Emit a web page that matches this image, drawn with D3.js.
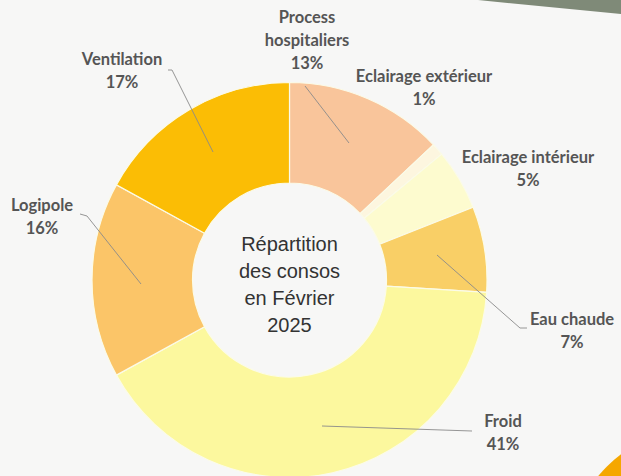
<!DOCTYPE html>
<html lang="fr">
<head>
<meta charset="UTF-8">
<title>Répartition des consos</title>
<script src="https://d3js.org/d3.v7.min.js"></script>
<style>
  body { margin: 0; background: #f7f7f6; }
  svg { display: block; }
</style>
</head>
<body>
<div id="chart"></div>
<script>
// Données
var categories = ["Process hospitaliers", "Eclairage extérieur", "Eclairage intérieur", "Eau chaude", "Froid", "Logipole", "Ventilation"];
var values = [13, 1, 5, 7, 41, 16, 17];
var colors = ["#f9c59b", "#fdf6df", "#fdfbcf", "#f9cf66", "#fcf89e", "#fbc568", "#fbbd05"];
var centerLines = ["Répartition", "des consos", "en Février", "2025"];

var width = 621, height = 476;
var cx = 289.5, cy = 280;
var outerR = 197.5, innerR = 97;

var svg = d3.select("#chart").append("svg")
    .attr("width", width)
    .attr("height", height);

svg.append("rect").attr("width", width).attr("height", height).attr("fill", "#f7f7f6");

// bandeau gris en haut à droite (photo)
svg.append("path")
    .attr("d", "M478,0 L621,0 L621,14 Z")
    .attr("fill", "#7f8a78");
// tache orange en bas à droite
svg.append("circle")
    .attr("cx", 700).attr("cy", 560).attr("r", 132)
    .attr("fill", "#f5a700");

var pie = d3.pie().sort(null).value(function(d) { return d; });
var arc = d3.arc().innerRadius(innerR).outerRadius(outerR);
var arcs = pie(values);

var g = svg.append("g").attr("transform", "translate(" + cx + "," + cy + ")");

g.selectAll("path.slice")
    .data(arcs)
    .enter().append("path")
    .attr("class", "slice")
    .attr("d", arc)
    .attr("fill", function(d, i) { return colors[i]; })
    .attr("stroke", "#fbfbe8")
    .attr("stroke-width", 1.2);

// étiquettes : position du texte et point d'attache de la ligne
var labels = [
  { lines: ["Process", "hospitaliers", "13%"], x: 307, y: 23, line: [[305, 86], [349, 143]] },
  { lines: ["Eclairage extérieur", "1%"], x: 424, y: 82, line: null },
  { lines: ["Eclairage intérieur", "5%"], x: 528, y: 163, line: null },
  { lines: ["Eau chaude", "7%"], x: 572, y: 325, line: [[437, 255], [520, 328], [527, 328]] },
  { lines: ["Froid", "41%"], x: 503, y: 427, line: [[322, 426], [472, 431]] },
  { lines: ["Logipole", "16%"], x: 42, y: 211, line: [[80, 214], [87, 216], [141, 284]] },
  { lines: ["Ventilation", "17%"], x: 122, y: 65, line: [[168, 70], [172, 70], [213, 152]] }
];

var lineGen = d3.line();
svg.selectAll("path.leader")
    .data(labels.filter(function(d) { return d.line; }))
    .enter().append("path")
    .attr("class", "leader")
    .attr("d", function(d) { return lineGen(d.line); })
    .attr("fill", "none")
    .attr("stroke", "#8a8a8a")
    .attr("stroke-width", 0.9);

var lab = svg.selectAll("text.lab")
    .data(labels)
    .enter().append("text")
    .attr("class", "lab")
    .attr("text-anchor", "middle")
    .attr("font-family", "Lato, 'Open Sans', sans-serif")
    .attr("font-weight", "bold")
    .attr("font-size", 16.5)
    .attr("fill", "#555")
    .attr("y", function(d) { return d.y; });

lab.selectAll("tspan")
    .data(function(d) { return d.lines.map(function(t) { return { t: t, x: d.x }; }); })
    .enter().append("tspan")
    .attr("x", function(d) { return d.x; })
    .attr("dy", function(d, i) { return i === 0 ? 0 : 23; })
    .text(function(d) { return d.t; });

// texte central
svg.append("text")
    .attr("text-anchor", "middle")
    .attr("font-family", "'Liberation Sans', Arial, sans-serif")
    .attr("font-size", 20)
    .attr("fill", "#333")
    .selectAll("tspan")
    .data(centerLines)
    .enter().append("tspan")
    .attr("x", cx)
    .attr("y", function(d, i) { return 251 + i * 27; })
    .text(function(d) { return d; });
</script>
</body>
</html>
